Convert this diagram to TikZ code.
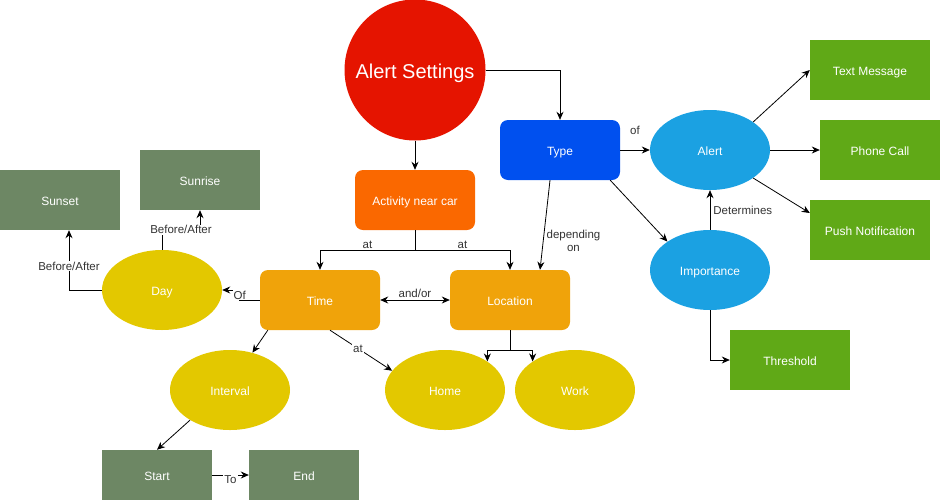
\documentclass[tikz,border=0pt]{standalone}
\usepackage{fontspec}
\setmainfont{Liberation Sans}
\usetikzlibrary{shapes.geometric,arrows.meta}

\definecolor{cRed}{HTML}{E51400}
\definecolor{cOrange}{HTML}{FA6800}
\definecolor{cBlue}{HTML}{0050EF}
\definecolor{cSky}{HTML}{1BA1E2}
\definecolor{cAmber}{HTML}{F0A30A}
\definecolor{cYellow}{HTML}{E3C800}
\definecolor{cOlive}{HTML}{6D8764}
\definecolor{cGreen}{HTML}{60A917}

\begin{document}
\begin{tikzpicture}[x=1pt, y=-1pt,
    txt/.style ={text=white, inner sep=0pt, text height=10.5pt, text depth=0pt, font=\fontsize{12}{14}\selectfont},
    topic/.style ={txt, rectangle, rounded corners=8pt, minimum width=120pt, minimum height=60pt},
    option/.style ={txt, rectangle, minimum width=120pt, minimum height=60pt},
    sunbox/.style ={txt, rectangle, fill=cOlive, minimum width=120pt, minimum height=60pt},
    limit/.style ={txt, rectangle, fill=cOlive, minimum width=110pt, minimum height=50pt},
    oval/.style ={txt, ellipse, minimum width=120pt, minimum height=80pt},
    arr/.style ={-{Stealth[length=8pt,width=7pt]}, line width=0.8pt},
    lbl/.style ={fill=white, inner sep=1pt, text=black!80, font=\fontsize{11.5}{13}\selectfont}]
   \useasboundingbox (0,0) rectangle (941,501);
   % main topic
   \node[txt, circle, fill=cRed, minimum size=141pt, text height=16pt, font=\fontsize{20}{24}\selectfont] (set) at (415,70) {Alert Settings};
   \node[topic, fill=cOrange] (act) at (415,200) {Activity near car};
   \node[topic, fill=cBlue] (type) at (560,150) {Type};
   % alert side
   \node[oval, fill=cSky] (alert) at (710,150) {Alert};
   \node[oval, fill=cSky] (imp) at (710,270) {Importance};
   \node[option, fill=cGreen] (msg) at (870,70) {Text Message};
   \node[option, fill=cGreen] (call) at (880,150) {Phone Call};
   \node[option, fill=cGreen] (push) at (870,230) {Push Notification};
   \node[option, fill=cGreen] (thr) at (790,360) {Threshold};
   % activity side
   \node[topic, fill=cAmber] (time) at (320,300) {Time};
   \node[topic, fill=cAmber] (loc) at (510,300) {Location};
   \node[oval, fill=cYellow] (day) at (162,290) {Day};
   \node[sunbox] (sunset) at (60,200) {Sunset};
   \node[sunbox] (sunrise) at (200,180) {Sunrise};
   \node[oval, fill=cYellow] (interval) at (230,390) {Interval};
   \node[limit] (start) at (157,475) {Start};
   \node[limit] (end) at (304,475) {End};
   \node[oval, fill=cYellow] (home) at (445,390) {Home};
   \node[oval, fill=cYellow] (work) at (575,390) {Work};

   \draw[arr] (set.south) -- (act.north);
   \draw[arr] (set.east) -| (type.north);
   \draw[arr] (act.south) -- ++(0,20) -| node[lbl,above,pos=0.25]{at} (time.north);
   \draw[arr] (act.south) -- ++(0,20) -| node[lbl,above,pos=0.25]{at} (loc.north);
   \draw[arr] ([xshift=-10pt]type.south) -- node[lbl,pos=0.68,right=2pt,align=center]{depending\\on} ([xshift=30pt]loc.north);
   \draw[arr] (type.east) -- node[lbl,midway,yshift=20pt]{of} (alert.west);
   \draw[arr] ([xshift=-10pt]type.south east) -- (imp.north west);
   \draw[arr] (imp.north) -- node[lbl,midway,right=2pt]{Determines} (alert.south);
   \draw[arr] (imp.south) |- (thr.west);
   \draw[arr] (alert.33) -- (msg.west);
   \draw[arr] (alert.east) -- (call.west);
   \draw[arr] (alert.-33) -- ([yshift=17pt]push.west);
   \draw[{Stealth[length=8pt,width=7pt]}-{Stealth[length=8pt,width=7pt]}, line width=0.8pt] (time.east) -- node[lbl,above=1pt,midway]{and/or} (loc.west);
   \draw[arr] (time.west) -- ++(-20,0) |- node[lbl,pos=0.25]{Of} (day.east);
   \draw[arr] (day.north) -- ++(0,-20) -| node[lbl,pos=0.25]{Before/After} (sunrise.south);
   \draw[arr] (day.west) -| node[lbl,pos=0.7]{Before/After} ([xshift=9pt]sunset.south);
   \draw[arr] ([xshift=8pt]time.south west) -- (interval.59);
   \draw[arr] ([xshift=10pt]time.south) -- node[lbl,pos=0.45]{at} (home.160);
   \draw[arr] (loc.south) -- ++(0,20) -| (home.34);
   \draw[arr] (loc.south) -- ++(0,20) -| (work.146);
   \draw[arr] (interval.217) -- (start.north);
   \draw[arr] (start.east) -- node[lbl,midway,yshift=-5pt]{To} (end.west);
\end{tikzpicture}
\end{document}
